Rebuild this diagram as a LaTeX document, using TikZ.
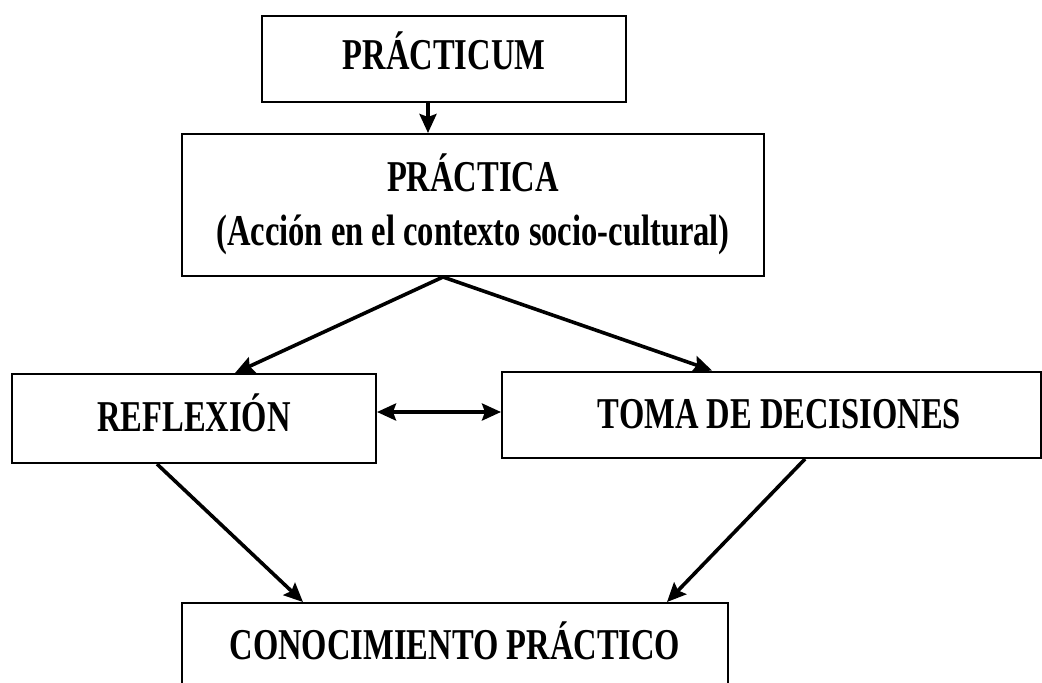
\documentclass[tikz,border=0pt]{standalone}
\usepackage{fontspec}
\newfontfamily\cf[FakeStretch=0.74]{Liberation Serif}
\usetikzlibrary{arrows.meta,calc}
\begin{document}
\begin{tikzpicture}[x=1pt,y=-1pt,
  box/.style={draw,line width=2pt,inner sep=0pt,font=\cf\bfseries\fontsize{44}{54}\selectfont},
  tip/.tip={Stealth[length=19pt,width=17pt,inset=3pt]},
  arr/.style={line width=3.6pt,-tip},
  darr/.style={line width=3.6pt,tip-tip}]
\useasboundingbox (0,0) rectangle (1042,683);
\node[box,minimum width=364pt,minimum height=86pt,text height=29pt,text depth=9pt] (pcum) at (444,59) {PRÁCTICUM};
\node[box,minimum width=582pt,minimum height=142pt,align=center,text height=90pt,text depth=10pt] (pca) at (473,205) {PRÁCTICA\\(Acción en el contexto socio-cultural)};
\node[box,minimum width=364pt,minimum height=89pt,text height=29pt,text depth=4pt] (refl) at (194,418.5) {REFLEXIÓN};
\node[box,minimum width=539pt,minimum height=86.5pt,text height=29pt,text depth=2.5pt] (toma) at (771.5,414.75) {\hspace*{16pt}TOMA DE DECISIONES};
\node[box,minimum width=546pt,minimum height=130pt,text height=29pt,text depth=47pt,anchor=north] (cono) at (455,602) {CONOCIMIENTO PRÁCTICO};
\draw[arr] ([xshift=-16pt]pcum.south) -- ([xshift=-16pt]pcum.south |- pca.north);
\draw[arr] ([xshift=-30pt]pca.south) -- ([xshift=41pt]refl.north);
\draw[arr] ([xshift=-30pt]pca.south) -- ([xshift=-59.5pt]toma.north);
\draw[darr] ([yshift=6.5pt]refl.east) -- ([yshift=6.5pt]refl.east -| toma.west);
\draw[arr] ([xshift=-37pt]refl.south) -- ([xshift=-152pt]cono.north);
\draw[arr] ([xshift=33.5pt]toma.south) -- ([xshift=212pt]cono.north);
\end{tikzpicture}
\end{document}
